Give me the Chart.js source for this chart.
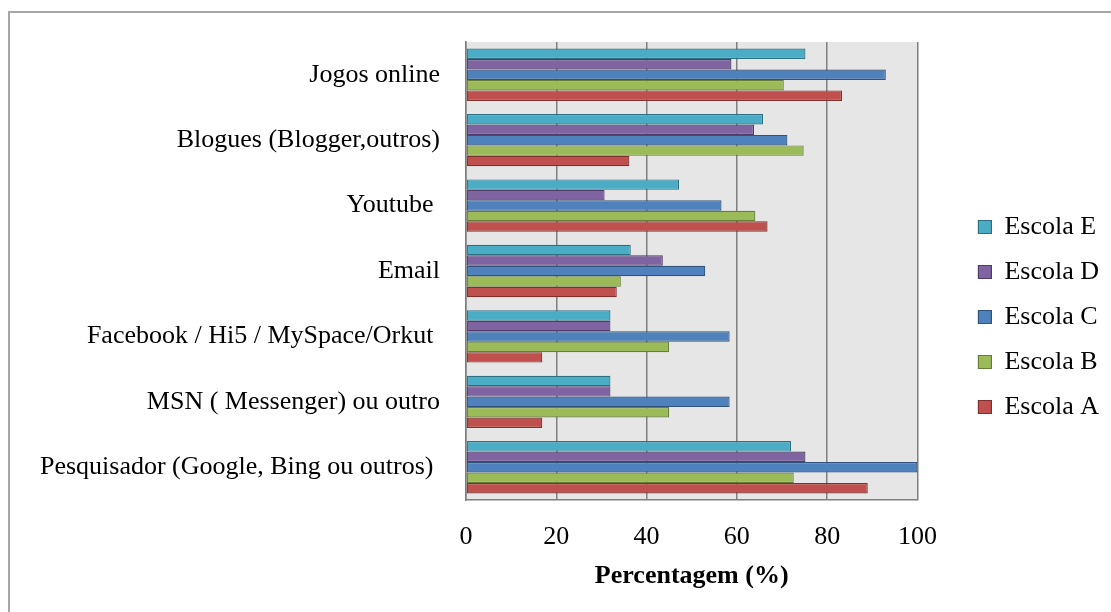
<!DOCTYPE html>
<html>
<head>
<meta charset="utf-8">
<script src="https://cdn.jsdelivr.net/npm/chart.js@4/dist/chart.umd.min.js"></script>
<style>
  html, body { margin: 0; padding: 0; background: #fff; overflow: hidden; }
  #moldura { position: absolute; left: 8px; top: 11px; width: 1200px; height: 700px;
    border-top: 2px solid #a6a6a6; border-left: 2px solid #a6a6a6; }
  #grafico { position: absolute; left: 0; top: 0; }
</style>
</head>
<body>
<div id="moldura"></div>
<canvas id="grafico" width="1111" height="612"></canvas>
<script>
let categorias = [
  'Jogos online',
  'Blogues (Blogger,outros)',
  'Youtube ',
  'Email',
  'Facebook / Hi5 / MySpace/Orkut ',
  'MSN ( Messenger) ou outro',
  'Pesquisador (Google, Bing ou outros) '
];
let escolaE = [75.2, 65.8, 47.2, 36.5, 32.0, 32.0, 72.0];
let escolaD = [58.8, 63.8, 30.7, 43.6, 32.0, 32.0, 75.2];
let escolaC = [93.0, 71.2, 56.6, 53.0, 58.4, 58.4, 100];
let escolaB = [70.4, 74.8, 64.1, 34.3, 45.0, 45.0, 72.6];
let escolaA = [83.3, 36.2, 66.8, 33.4, 16.9, 16.9, 89.0];
let ticksX = [0, 20, 40, 60, 80, 100];

Chart.defaults.font.family = '"Liberation Serif", "Times New Roman", serif';
Chart.defaults.font.size = 26;
Chart.defaults.color = '#000';

// fundo cinzento da area do grafico
let fundo = {
  id: 'fundo',
  beforeDraw(chart) {
    let a = chart.chartArea;
    let ctx = chart.ctx;
    ctx.save();
    ctx.fillStyle = '#e6e6e6';
    ctx.fillRect(a.left, a.top, a.right - a.left, a.bottom - a.top);
    ctx.restore();
  }
};

function serie(label, data, cor, borda) {
  return {
    label: label,
    data: data,
    backgroundColor: cor,
    borderColor: borda,
    borderWidth: 1.2,
    borderSkipped: false,
    categoryPercentage: 0.8,
    barPercentage: 1.0
  };
}

new Chart(document.getElementById('grafico').getContext('2d'), {
  type: 'bar',
  data: {
    labels: categorias,
    datasets: [
      serie('Escola E', escolaE, '#4bacc6', '#2f6f82'),
      serie('Escola D', escolaD, '#8064a2', '#4f3c68'),
      serie('Escola C', escolaC, '#4f81bd', '#30527c'),
      serie('Escola B', escolaB, '#9bbb59', '#677d3a'),
      serie('Escola A', escolaA, '#c0504d', '#7e302e')
    ]
  },
  options: {
    indexAxis: 'y',
    responsive: false,
    animation: false,
    layout: { padding: { left: 10, right: 2, top: 42, bottom: 20 } },
    plugins: {
      legend: {
        position: 'right',
        labels: { boxWidth: 13, boxHeight: 13, padding: 19, color: '#000', font: { size: 26 } }
      },
      tooltip: { enabled: false }
    },
    scales: {
      x: {
        min: 0,
        max: 100,
        afterBuildTicks: s => { s.ticks = ticksX.map(v => ({ value: v })); },
        afterFit: s => { s.height = 92; },
        grid: { color: '#7f7f7f', lineWidth: 1.5, drawTicks: false },
        border: { color: '#7f7f7f', width: 1.5 },
        ticks: { padding: 22, color: '#000', font: { size: 26 } },
        title: {
          display: true,
          text: 'Percentagem (%)',
          color: '#000',
          font: { size: 26, weight: 'bold' },
          padding: { top: 4, bottom: 0 }
        }
      },
      y: {
        afterFit: s => { s.width = 456; },
        grid: { display: false, drawTicks: false },
        border: { color: '#7f7f7f', width: 1.5 },
        ticks: { padding: 26, color: '#000', font: { size: 26 } }
      },
      y2: {
        type: 'category',
        position: 'right',
        afterFit: s => { s.width = 42; },
        grid: { display: false, drawTicks: false },
        border: { display: false },
        ticks: { display: false }
      }
    }
  },
  plugins: [fundo]
});
</script>
</body>
</html>
